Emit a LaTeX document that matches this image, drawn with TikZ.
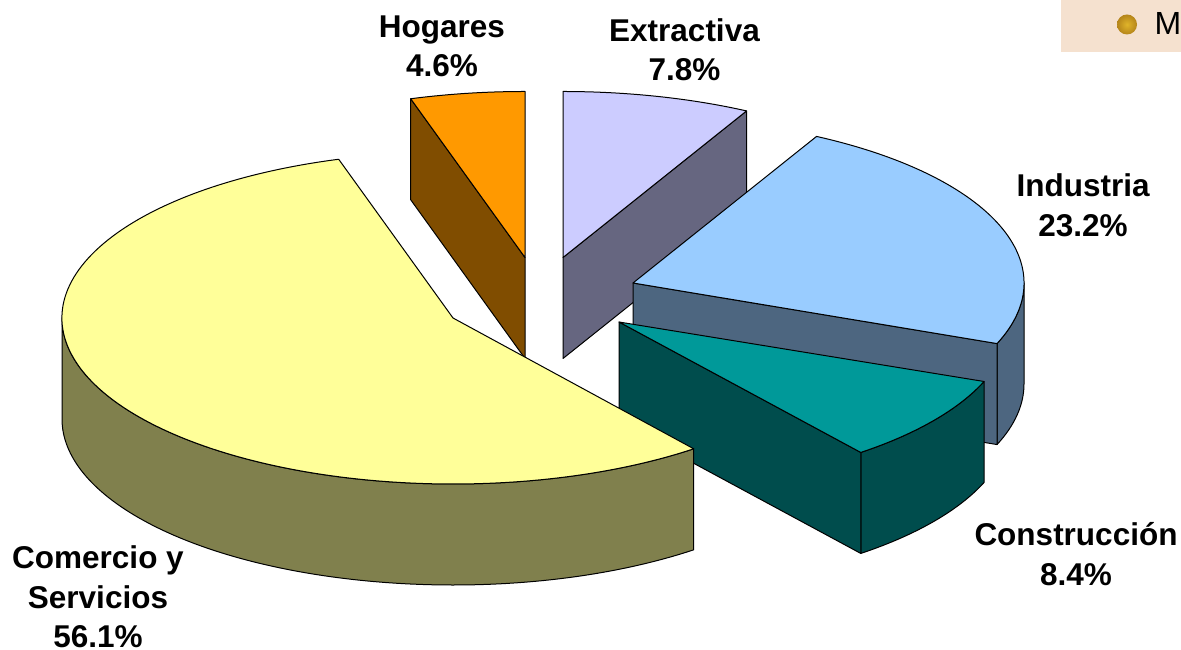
\documentclass[tikz,border=0pt]{standalone}
\usepackage{fontspec}
\setmainfont{Liberation Sans}
\definecolor{cYel}{HTML}{FFFF99}\definecolor{cYelS}{HTML}{80804D}
\definecolor{cTeal}{HTML}{009999}\definecolor{cTealS}{HTML}{004D4D}
\definecolor{cOr}{HTML}{FF9900}\definecolor{cOrS}{HTML}{804D00}
\definecolor{cLav}{HTML}{CCCCFF}\definecolor{cLavS}{HTML}{666680}
\definecolor{cBlu}{HTML}{99CCFF}\definecolor{cBluS}{HTML}{4D6680}
\definecolor{cLeg}{HTML}{F5E1CF}\definecolor{cGold}{HTML}{E0B42A}\definecolor{cGoldD}{HTML}{B5851A}
\tikzset{
  edge/.style={draw=black,line width=1pt,line join=round},
  lbl/.style={font=\fontsize{31.5}{39.5}\selectfont\bfseries,align=center,text=black,inner sep=0pt},
}
% cx cy start end colour: outer rim wall
\newcommand{\rimwall}[5]{\path[edge,fill=#5] ({#1+391*cos(#3)},{#2+166*sin(#3)}) arc[start angle=#3,end angle=#4,x radius=391,y radius=166] -- ++(0,-101) arc[start angle=#4,end angle=#3,x radius=391,y radius=166] -- cycle;}
% cx cy angle colour: radial cut wall
\newcommand{\cutwall}[4]{\path[edge,fill=#4] (#1,#2) -- ({#1+391*cos(#3)},{#2+166*sin(#3)}) -- ++(0,-101) -- (#1,#2-101) -- cycle;}
% cx cy start end colour: top face
\newcommand{\topface}[5]{\path[edge,fill=#5] (#1,#2) -- ({#1+391*cos(#3)},{#2+166*sin(#3)}) arc[start angle=#3,end angle=#4,x radius=391,y radius=166] -- cycle;}
\begin{document}
\begin{tikzpicture}[x=1pt,y=1pt]
\useasboundingbox (0,0) rectangle (1181,650);
% Extractiva
\cutwall{563}{392.5}{62}{cLavS}
\topface{563}{392.5}{62}{90}{cLav}
% Hogares
\cutwall{525}{392.5}{107}{cOrS}
\topface{525}{392.5}{90}{107}{cOr}
% Industria
\rimwall{633}{367}{-21.4}{0}{cBluS}
\cutwall{633}{367}{-21.4}{cBluS}
\topface{633}{367}{-21.4}{62}{cBlu}
% Construccion
\rimwall{619}{328}{-51.8}{-21}{cTealS}
\cutwall{619}{328}{-51.8}{cTealS}
\topface{619}{328}{-51.8}{-21}{cTeal}
% Comercio
\rimwall{453}{332}{180}{308}{cYelS}
\topface{453}{332}{107}{308}{cYel}
% legend fragment
\begin{scope}
\clip (0,0) rectangle (1181,650);
\fill[cLeg] (1061,598) rectangle (1181,650);
\shade[inner color=cGold,outer color=cGoldD] (1127,625.5) circle (10);
\node[font=\fontsize{32}{36}\selectfont,anchor=base west,inner sep=0pt] (legM) at (1154.5,615) {M};
\end{scope}
% labels
\node[lbl] (hog) at (442,603.5) {Hogares\\4.6\%};
\node[lbl] (ext) at (684.5,600) {Extractiva\\7.8\%};
\node[lbl] (ind) at (1083,444.5) {Industria\\23.2\%};
\node[lbl] (con) at (1076,96) {Construcción\\8.4\%};
\node[lbl] (com) at (98,53) {Comercio y\\Servicios\\56.1\%};
\end{tikzpicture}
\end{document}
